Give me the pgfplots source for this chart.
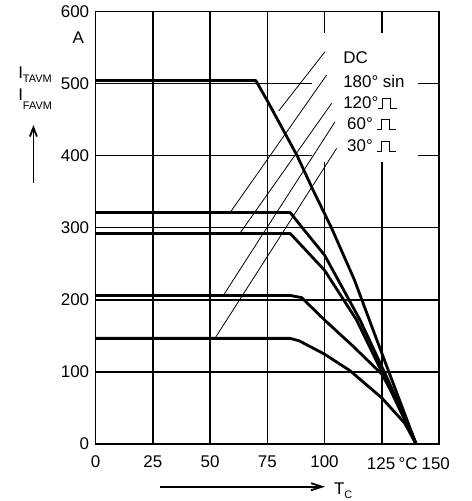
\documentclass[border=0pt]{standalone}
\usepackage{fontspec}
\setmainfont{Liberation Sans}
\usepackage{pgfplots}
\pgfplotsset{compat=1.18}
\usetikzlibrary{arrows.meta}

% small square pulse symbol for the legend text
\newcommand{\pulse}{\rule{4bp}{1bp}\rule{1bp}{10.5bp}\raisebox{9.5bp}{\rule{7bp}{1bp}}\rule{1bp}{10.5bp}\rule{6bp}{1bp}}
\newcommand{\bigfont}{\fontsize{17}{20}\selectfont}
\newcommand{\subfont}{\fontsize{11}{13}\selectfont}

\pgfplotsset{
    curve/.style={black, line width=2.8bp, line join=round, mark=none},
    leader/.style={black, line width=0.8bp, mark=none},
}

\begin{document}
\begin{tikzpicture}
\begin{axis}[
    scale only axis,
    width=343.3bp, height=432.7bp,
    xmin=0, xmax=150,
    ymin=0, ymax=600,
    xtick={0,25,50,75,100,125,150},
    xticklabels={0,25,50,75,100,,},
    ytick={0,100,200,300,400,500,600},
    xmajorgrids, ymajorgrids,
    major grid style={black, line width=1.5bp},
    axis line style={black, line width=1.5bp},
    major tick length=0pt,
    clip=false,
    /pgf/number format/assume math mode=true,
    tick label style={font=\bigfont},
    xticklabel style={yshift=-8bp},
    yticklabel style={xshift=-3bp},
]
% white patch behind the curve labels
\fill[white] (axis cs:94.4,391) rectangle (axis cs:140.8,570);

% leader lines from labels to curves
\addplot[leader] coordinates {(100.2,544.0) (80.0,462.0)};
\addplot[leader] coordinates {(100.9,511.6) (59.0,322.1)};
\addplot[leader] coordinates {(103.1,472.4) (63.0,292.2)};
\addplot[leader] coordinates {(104.6,446.9) (56.1,207.6)};
\addplot[leader] coordinates {(105.3,410.0) (52.4,148.0)};

% DC
\addplot[curve] coordinates {(0,504) (70,504) (75,476) (88,400) (95,352) (103,300) (113,228) (121,160) (130,84) (140,0)};
% 180 sin
\addplot[curve] coordinates {(0,321) (85,321) (90,301) (100,262) (115.5,172) (128,87) (140,0)};
% 120 rect
\addplot[curve] coordinates {(0,292) (85,292) (100,241) (114,172) (127,87) (140,0)};
% 60 rect
\addplot[curve] coordinates {(0,206) (85,206) (90,203) (100,172) (112,137) (125,97) (135,40) (140,0)};
% 30 rect
\addplot[curve] coordinates {(0,146.5) (85,146.5) (89,143) (100,124.6) (111,102) (125,64) (135,29) (140,0)};

% curve labels
\node[anchor=west, font=\bigfont, inner sep=0pt] at (axis cs:108.1,535.2) {DC};
\node[anchor=west, font=\bigfont, inner sep=0pt] at (axis cs:108.1,503.3) {180° sin};
\node[anchor=west, font=\bigfont, inner sep=0pt] at (axis cs:108.1,473.0) {120°\pulse};
\node[anchor=west, font=\bigfont, inner sep=0pt] at (axis cs:109.8,443.7) {60° \pulse};
\node[anchor=west, font=\bigfont, inner sep=0pt] at (axis cs:109.8,413.2) {30° \pulse};

% remaining x tick labels and unit
\node[font=\bigfont, inner sep=0pt] at (axis cs:124.7,-27.7) {125};
\node[font=\bigfont, inner sep=0pt] at (axis cs:136.5,-27.7) {°C};
\node[font=\bigfont, inner sep=0pt] at (axis cs:148.6,-27.7) {150};

% y axis label
\node[font=\bigfont, inner sep=0pt] at (axis cs:-7.6,563.9) {A};
\node[anchor=base west, font=\bigfont, inner sep=0pt] at (axis cs:-33.9,507.5) {I\raisebox{-4bp}{\subfont TAVM}};
\node[anchor=base west, font=\bigfont, inner sep=0pt] at (axis cs:-33.9,477.0) {I\raisebox{-9bp}{\subfont FAVM}};
\draw[line width=1.8bp, -{Straight Barb[length=9bp, width=7bp]}] (axis cs:-27.2,362.3) -- (axis cs:-27.2,442.3);

% x axis label
\draw[line width=1.8bp, -{Straight Barb[length=11bp, width=7bp]}] (axis cs:28.2,-59.2) -- (axis cs:100.2,-59.2);
\node[anchor=base west, font=\bigfont, inner sep=0pt] at (axis cs:104.1,-70.0) {T\raisebox{-4bp}{\subfont C}};

\coordinate (bbl) at (axis cs:-41.8,-79.0);
\coordinate (btr) at (axis cs:164.0,615.7);
\end{axis}
\path (bbl) rectangle (btr);
\end{tikzpicture}
\end{document}
